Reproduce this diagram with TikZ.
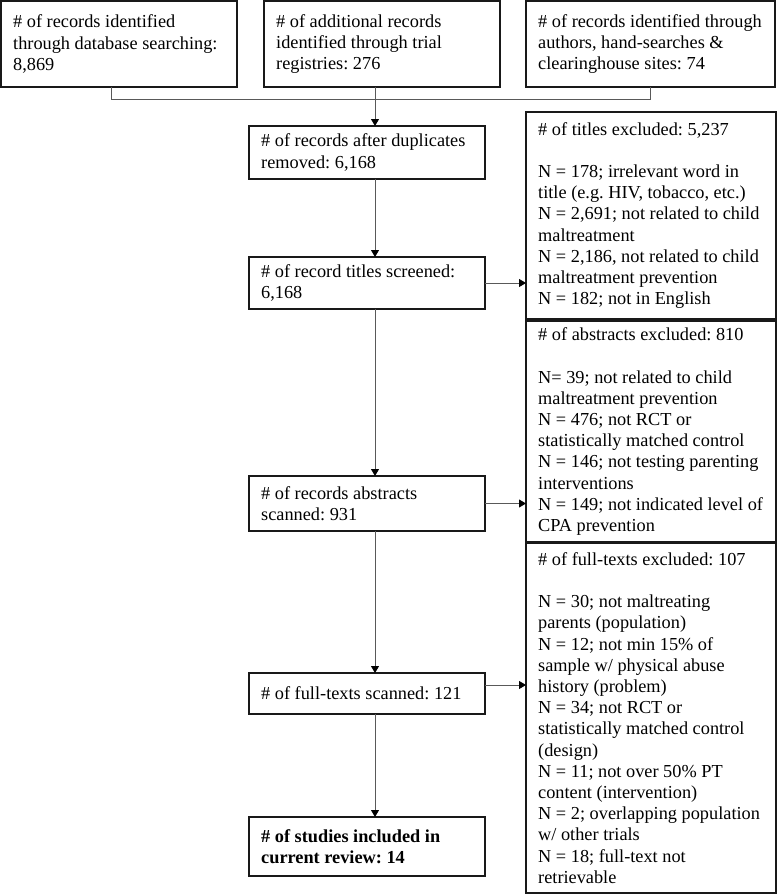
\documentclass[tikz,border=0pt]{standalone}
\usepackage{fontspec}
\setmainfont{Liberation Serif}
\usetikzlibrary{arrows.meta}
\begin{document}
\frenchspacing
\begin{tikzpicture}[x=1pt,y=-1pt,
  box/.style={draw=black!90, line width=1.2pt, anchor=north west, inner sep=0pt, outer sep=0pt},
  txt/.style={anchor=west, inner sep=0pt, align=left, font=\fontsize{18.3}{21.2}\selectfont},
  conn/.style={draw=black!65, line width=0.9pt},
  arr/.style={conn, -{Triangle[length=7pt,width=8pt,color=black]}}]
\useasboundingbox (0,0) rectangle (777,894);
\coordinate (spine) at (375,0);
% boxes
\node[box, minimum width=236pt, minimum height=86pt] (b1) at (1,1) {};
\node[box, minimum width=236pt, minimum height=86pt] (b2) at (264,1) {};
\node[box, minimum width=249pt, minimum height=86pt] (b3) at (526,1) {};
\node[box, minimum width=236pt, minimum height=53pt] (b4) at (249,126) {};
\node[box, minimum width=236pt, minimum height=52pt] (b5) at (249,257) {};
\node[box, minimum width=236pt, minimum height=55pt] (b6) at (249,476) {};
\node[box, minimum width=236pt, minimum height=41pt] (b7) at (249,673) {};
\node[box, minimum width=236pt, minimum height=59pt] (b8) at (249,817) {};
\node[box, minimum width=250pt, minimum height=207pt] (e1) at (526,112) {};
\node[box, minimum width=250pt, minimum height=221pt] (e2) at (526,321) {};
\node[box, minimum width=250pt, minimum height=350pt] (e3) at (526,543) {};
% texts
\node[txt] (t1) at ([xshift=12pt]b1.west)
  {\# of records identified\\through database searching:\\8,869};
\node[txt] (t2) at ([xshift=12pt]b2.west)
  {\# of additional records\\identified through trial\\registries: 276};
\node[txt] (t3) at ([xshift=12pt]b3.west)
  {\# of records identified through\\authors, hand-searches \&\\clearinghouse sites: 74};
\node[txt] (t4) at ([xshift=12pt]b4.west)
  {\# of records after duplicates\\removed: 6,168};
\node[txt] (t5) at ([xshift=12pt]b5.west)
  {\# of record titles screened:\\6,168};
\node[txt] (t6) at ([xshift=12pt]b6.west)
  {\# of records abstracts\\scanned: 931};
\node[txt] (t7) at ([xshift=12pt]b7.west)
  {\# of full-texts scanned: 121};
\node[txt, font=\fontsize{18.3}{21.2}\selectfont\bfseries] (t8) at ([xshift=12pt]b8.west)
  {\# of studies included in\\current review: 14};
\node[txt] (te1) at ([xshift=12pt]e1.west)
  {\# of titles excluded: 5,237\\[21.2pt]
   N = 178; irrelevant word in\\title (e.g. HIV, tobacco, etc.)\\
   N = 2,691; not related to child\\maltreatment\\
   N = 2,186, not related to child\\maltreatment prevention\\
   N = 182; not in English};
\node[txt] (te2) at ([xshift=12pt]e2.west)
  {\# of abstracts excluded: 810\\[21.2pt]
   N= 39; not related to child\\maltreatment prevention\\
   N = 476; not RCT or\\statistically matched control\\
   N = 146; not testing parenting\\interventions\\
   N = 149; not indicated level of\\CPA prevention};
\node[txt] (te3) at ([xshift=12pt]e3.west)
  {\# of full-texts excluded: 107\\[21.2pt]
   N = 30; not maltreating\\parents (population)\\
   N = 12; not min 15\% of\\sample w/ physical abuse\\history (problem)\\
   N = 34; not RCT or\\statistically matched control\\(design)\\
   N = 11; not over 50\% PT\\content (intervention)\\
   N = 2; overlapping population\\w/ other trials\\
   N = 18; full-text not\\retrievable};
% connectors
\draw[conn] ([xshift=-8pt]b1.south) -- ++(0,12) -| (b3.south);
\draw[arr] (b2.south -| spine) -- (b4.north -| spine);
\draw[arr] (b4.south -| spine) -- (b5.north -| spine);
\draw[arr] (b5.south -| spine) -- (b6.north -| spine);
\draw[arr] (b6.south -| spine) -- (b7.north -| spine);
\draw[arr] (b7.south -| spine) -- (b8.north -| spine);
\draw[arr] (b5.east) -- (b5.east -| e1.west);
\draw[arr] (b6.east) -- (b6.east -| e2.west);
\draw[arr] ([yshift=8.5pt]b7.east) -- ([yshift=8.5pt]b7.east -| e3.west);
\end{tikzpicture}
\end{document}
